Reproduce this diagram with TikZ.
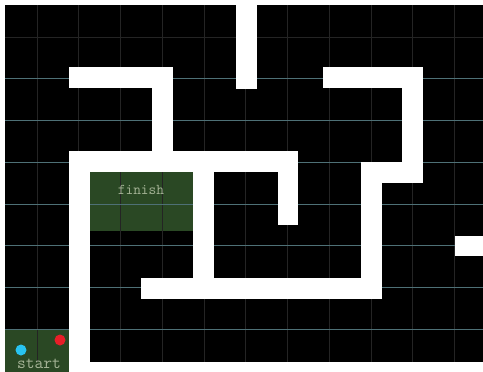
\documentclass[tikz,border=0pt]{standalone}
\usepackage{xcolor}
\usepackage{tikz}

\definecolor{mazegreen}{RGB}{42,72,36}
\definecolor{gridgray}{RGB}{36,36,36}
\definecolor{gridteal}{RGB}{78,112,118}
\definecolor{labelgray}{RGB}{165,180,150}
\definecolor{dotblue}{RGB}{40,195,240}
\definecolor{dotred}{RGB}{232,30,40}

\tikzset{
  wall/.style={fill=white, draw=none},
  zone/.style={fill=mazegreen, draw=none},
  zonelabel/.style={text=labelgray, font=\ttfamily\fontsize{15}{17}\selectfont, inner sep=0pt},
  agent/.style={circle, minimum size=11pt, inner sep=0pt, draw=none}
}

\begin{document}
\begin{tikzpicture}[x=1pt, y=-1pt]
        \useasboundingbox (0,0) rectangle (483,372);
        % Background
        \fill[white] (0,0) rectangle (483,372);
        \fill[black] (5,5) rectangle (483,362);

        % Finish and start zones
        \fill[zone] (90,172) rectangle (193,231);
        \fill[zone] (5,330) rectangle (69,372);

        % Grid
        \foreach \x in {0,...,10}
            \draw[gridgray, line width=1pt] (37+41.75*\x,5) -- (37+41.75*\x,362);
        \draw[gridgray, line width=1pt] (5,37) -- (483,37);
        \foreach \y in {1,...,7}
            \draw[gridteal, line width=0.8pt] (5,37+41.75*\y) -- (483,37+41.75*\y);

        % Walls
        \fill[wall] (69,67) rectangle (173,88);
        \fill[wall] (152,67) rectangle (173,172);
        \fill[wall] (69,151) rectangle (298,172);
        \fill[wall] (278,151) rectangle (298,225);
        \fill[wall] (69,151) rectangle (90,372);
        \fill[wall] (193,172) rectangle (214,299);
        \fill[wall] (141,278) rectangle (382,299);
        \fill[wall] (361,162) rectangle (382,299);
        \fill[wall] (361,162) rectangle (423,183);
        \fill[wall] (402,67) rectangle (423,183);
        \fill[wall] (323,67) rectangle (423,88);
        \fill[wall] (236,0) rectangle (257,89);
        \fill[wall] (455,236) rectangle (483,256);

        % Labels and agents
        \node[zonelabel] (finish) at (141,190) {finish};
        \node[zonelabel, font=\ttfamily\fontsize{17}{19}\selectfont] (start) at (39,364) {start};
        \node[agent, fill=dotblue] (robot) at (21,350) {};
        \node[agent, fill=dotred] (goal) at (60,340) {};
    \end{tikzpicture}
\end{document}
